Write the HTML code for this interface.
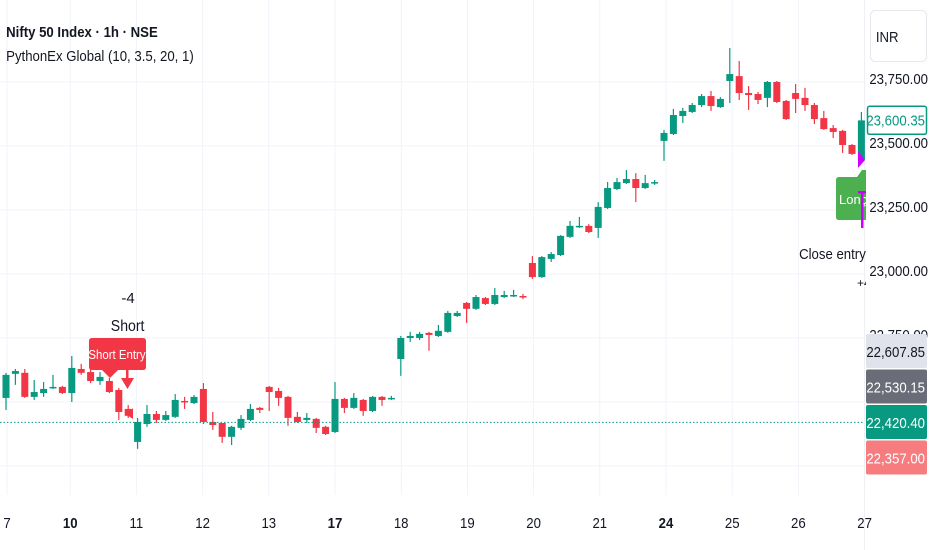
<!DOCTYPE html>
<html><head><meta charset="utf-8">
<style>
html,body{margin:0;padding:0;background:#fff;}
body{width:932px;height:550px;overflow:hidden;position:relative;font-family:"Liberation Sans",sans-serif;}
svg{position:absolute;left:0;top:0;}
.t{font-family:"Liberation Sans",sans-serif;}
</style></head>
<body>
<svg id="chart" width="932" height="550" viewBox="0 0 932 550" xmlns="http://www.w3.org/2000/svg">
  <g id="grid"></g>
  <g id="candles"></g>
  <g id="overlay"></g>
  <g id="axis"></g>
  <g id="xaxis"></g>
  <text x="7" y="37" font-size="15" font-weight="bold" fill="#131722" class="t" transform="scale(0.88,1)">Nifty 50 Index · 1h · NSE</text>
  <text x="7" y="61" font-size="15" fill="#131722" class="t" transform="scale(0.88,1)">PythonEx Global  (10, 3.5, 20, 1)</text>
</svg>
<script>
const opens  = [22516,22610,22614,22520,22535,22555,22559,22535,22629,22617,22582,22582,22547,22473,22344,22414,22453,22430,22442,22504,22496,22551,22422,22418,22364,22399,22430,22477,22559,22543,22520,22442,22430,22434,22403,22383,22512,22477,22508,22465,22520,22512,22668,22750,22750,22770,22758,22774,22836,22887,22864,22906,22883,22910,22914,22914,23043,22988,23059,23074,23145,23184,23188,23180,23258,23332,23355,23371,23336,23355,23520,23547,23617,23633,23660,23695,23652,23754,23773,23707,23703,23688,23750,23676,23707,23688,23660,23609,23570,23559,23504,23445];
const closes = [22606,22621,22520,22539,22551,22559,22535,22633,22614,22582,22598,22539,22461,22446,22422,22453,22430,22449,22508,22500,22520,22422,22410,22364,22403,22434,22473,22469,22539,22516,22438,22422,22438,22399,22375,22512,22477,22516,22465,22520,22508,22516,22750,22758,22766,22762,22778,22848,22848,22864,22910,22883,22918,22918,22918,22910,22988,23066,23078,23149,23188,23188,23164,23262,23336,23359,23371,23336,23355,23359,23551,23621,23637,23660,23695,23656,23684,23781,23707,23699,23680,23750,23672,23605,23684,23660,23605,23566,23555,23504,23469,23600];
const highs  = [22614,22629,22629,22586,22578,22606,22563,22680,22649,22633,22617,22594,22555,22488,22438,22488,22465,22465,22531,22520,22527,22574,22461,22418,22407,22449,22492,22481,22563,22555,22524,22461,22457,22438,22407,22578,22516,22535,22512,22524,22524,22524,22758,22774,22774,22774,22801,22856,22856,22891,22918,22910,22945,22934,22938,22922,23070,23070,23086,23152,23207,23223,23195,23281,23359,23375,23406,23394,23387,23367,23563,23645,23649,23668,23703,23715,23691,23883,23832,23734,23711,23754,23754,23680,23742,23727,23668,23637,23582,23563,23508,23633];
const lows   = [22469,22567,22516,22508,22520,22551,22531,22500,22606,22574,22567,22535,22430,22438,22317,22403,22418,22426,22438,22473,22492,22414,22391,22340,22332,22391,22426,22457,22465,22485,22407,22418,22418,22379,22371,22379,22457,22473,22446,22461,22485,22508,22602,22735,22742,22700,22754,22770,22832,22809,22860,22879,22879,22906,22910,22902,22981,22985,23047,23070,23141,23180,23160,23141,23254,23328,23352,23281,23332,23348,23442,23543,23590,23629,23652,23637,23649,23668,23680,23641,23664,23652,23668,23602,23629,23637,23586,23563,23531,23473,23465,23442];
const priceTicks = [23750,23500,23250,23000,22750,22500,22250];
const priceTickLabels = ["23,750.00","23,500.00","23,250.00","23,000.00","22,750.00","",""];
const dayLabels = ["7","10","11","12","13","17","18","19","20","21","24","25","26","27"];
const dayBold = [false,true,false,false,false,true,false,false,false,false,true,false,false,false];
const dayStartIndex = [0,7,14,21,28,35,42,49,56,63,70,77,84,91];
const lastPrice = 23600.35;
const markerPrices = [22607.85,22530.15,22420.40,22357.00];

const NS="http://www.w3.org/2000/svg";
const P0=23750, Y0=82, PXP=0.256;
function y(p){return Y0+(P0-p)*PXP;}
function x(i){return 6+i*9.4;}
function dayX(k){return 7+k*66.2 - (k>0?3:0);}
function mk(tag,attrs,parent){const e=document.createElementNS(NS,tag);for(const k in attrs)e.setAttribute(k,attrs[k]);parent.appendChild(e);return e;}
const grid=document.getElementById('grid'), cg=document.getElementById('candles'), ov=document.getElementById('overlay'), ax=document.getElementById('axis'), xa=document.getElementById('xaxis');

// horizontal grid
priceTicks.forEach((p,i)=>{
  const l=mk('line',{x1:0,x2:864,y1:y(p),y2:y(p),stroke:'#f0f3fa','stroke-width':1},grid);
  
  
});
// vertical grid + day labels
dayLabels.forEach((d,k)=>{
  const xx=dayX(k);
  const l=mk('line',{x1:xx,x2:xx,y1:0,y2:495,stroke:'#f0f3fa','stroke-width':1},grid);
  
  
  const t=mk('text',{x:xx,y:528,'font-size':15,'text-anchor':'middle',fill:'#131722','font-weight':dayBold[k]?'bold':'normal',class:'t',transform:`translate(${xx*0.12},0) scale(0.88,1)`},xa);
  t.textContent=d;
  
  
});
// axis separator
const sep=mk('line',{x1:864.5,x2:864.5,y1:0,y2:550,stroke:'#eef0f3','stroke-width':1},grid);



// dotted line
const dl=mk('line',{x1:0,x2:864,y1:y(markerPrices[2]),y2:y(markerPrices[2]),stroke:'#089981','stroke-width':1,'stroke-dasharray':'1.5,2'},ov);



// candles
opens.forEach((o,i)=>{
  const c=closes[i], up=c>=o, col=up?'#089981':'#f23645';
  const xc=x(i);
  const g=mk('g',{},cg);
  
  
  mk('line',{x1:xc,x2:xc,y1:y(highs[i]),y2:y(lows[i]),stroke:col,'stroke-width':1.2},g);
  const top=y(Math.max(o,c)), h=Math.max(1.5,Math.abs(y(o)-y(c)));
  mk('rect',{x:xc-3.5,y:top,width:7,height:h,fill:col},g);
});

// Short entry annotations
const se=mk('g',{},ov);


mk('path',{d:'M92,338 H143 Q146,338 146,341 V367 Q146,370 143,370 H118 L110,378 L102,370 H92 Q89,370 89,367 V341 Q89,338 92,338 Z',fill:'#f23645'},se);
const st=mk('text',{x:117,y:359,'font-size':13,fill:'#fff','text-anchor':'middle',class:'t',transform:'translate(14,0) scale(0.88,1)'},se);st.textContent='Short Entry';
const t4=mk('text',{x:128,y:303,'font-size':15,fill:'#131722','text-anchor':'middle',class:'t'},ov);t4.textContent='-4';

const ts=mk('text',{x:128,y:331,'font-size':16,fill:'#131722','text-anchor':'middle',class:'t',transform:'translate(15,0) scale(0.88,1)'},ov);ts.textContent='Short';

const ar=mk('g',{},ov);
mk('rect',{x:126,y:358,width:2.5,height:22,fill:'#f23645'},ar);
mk('path',{d:'M121,378 L134,378 L127.5,389 Z',fill:'#f23645'},ar);
mk('path',{d:'M133,408 L133,419 L127,415 Z',fill:'#f23645'},ar);

// Long / close annotations
const lg=mk('g',{},ov);
mk('path',{d:'M839,177 H857 L862,170 L866,170 V220 H839 Q836,220 836,217 V180 Q836,177 839,177 Z',fill:'#4caf50'},lg);
const lt=mk('text',{x:839,y:204,'font-size':13,fill:'#fff',class:'t'},lg);lt.textContent='Lonç';
const mt=mk('path',{d:'M858,151 L865,160 L858,168 Z',fill:'#cc00ff'},ov);

const ma=mk('g',{},ov);
mk('rect',{x:861,y:192,width:2.5,height:36,fill:'#cc00ff'},ma);
mk('rect',{x:858,y:191,width:8,height:2.5,fill:'#cc00ff'},ma);
const ce=mk('text',{x:799,y:259,'font-size':15,fill:'#131722',class:'t',transform:'translate(96,0) scale(0.88,1)'},ov);ce.textContent='Close entry(s';

const p4=mk('text',{x:857,y:287,'font-size':12,fill:'#131722',class:'t'},ov);p4.textContent='+4';


// price axis
const axbg=mk('rect',{x:866,y:0,width:66,height:550,fill:'#fff'},ax);

const inr=mk('rect',{x:870.5,y:10.5,width:56,height:51,rx:5,fill:'#fff',stroke:'#e6e8ee'},ax);

const it=mk('text',{x:876,y:42,'font-size':15,fill:'#131722',class:'t',transform:'translate(105,0) scale(0.88,1)'},ax);it.textContent='INR';
priceTicks.forEach((p,i)=>{
  if(!priceTickLabels[i])return;
  const t=mk('text',{x:928,y:y(p)+2,'font-size':15,fill:'#131722','text-anchor':'end',class:'t',transform:`translate(${928*0.12},0) scale(0.88,1)`},ax);
  t.textContent=priceTickLabels[i];
  
  
});
// last price box
const lb=mk('rect',{x:867.5,y:y(lastPrice)-14,width:59,height:28,rx:2,fill:'#fff',stroke:'#089981','stroke-width':1.5},ax);

const lbt=mk('text',{x:925,y:y(lastPrice)+5,'font-size':15,fill:'#089981','text-anchor':'end',class:'t',transform:`translate(${925*0.12},0) scale(0.88,1)`},ax);lbt.textContent='23,600.35';
// marker boxes
const mcol=['#e0e3eb','#6a6d78','#089981','#f77c80'];
const mtc=['#131722','#fff','#fff','#fff'];
markerPrices.forEach((p,i)=>{
  const top=334+i*35.5;
  const r=mk('rect',{x:866,y:top,width:61,height:34,rx:2,fill:mcol[i]},ax);
  
  
  const t=mk('text',{x:925,y:top+23,'font-size':15,fill:mtc[i],'text-anchor':'end',class:'t',transform:`translate(${925*0.12},0) scale(0.88,1)`},ax);
  t.textContent=p.toLocaleString('en-US',{minimumFractionDigits:2,maximumFractionDigits:2});
  
  
});
</script>
</body></html>
